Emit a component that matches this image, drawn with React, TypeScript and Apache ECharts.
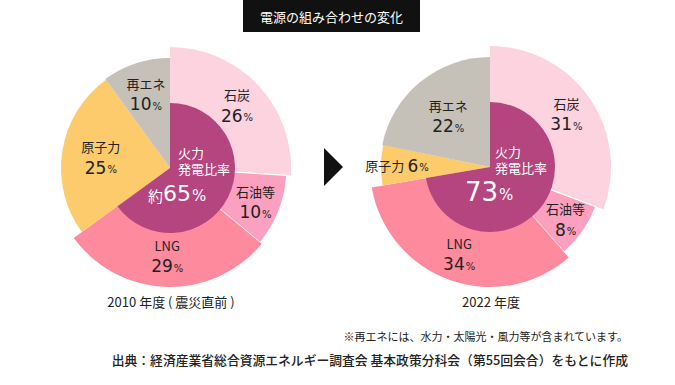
import React, { useEffect, useRef } from 'react';
import * as echarts from 'echarts';

// ---------- data ----------
const categories = ['石炭', '石油等', 'LNG', '原子力', '再エネ'];
const values2010 = [26, 10, 29, 25, 10];
const values2022 = [31, 8, 34, 6, 22];
const isThermal = [true, true, true, false, false];
const thermalPrefix = ['約', ''];
const thermalTitle = ['火力', '発電比率'];
const yearLabels = ['2010 年度 ( 震災直前 )', '2022 年度'];
const titleText = '電源の組み合わせの変化';
const footnote = '※再エネには、水力・太陽光・風力等が含まれています。';
const sourceText = '出典：経済産業省総合資源エネルギー調査会 基本政策分科会（第55回会合）をもとに作成';

// ---------- styles / layout ----------
const COLORS = ['#FDD3DF', '#FBA0BE', '#FE8A9E', '#FDCB6B', '#C5C0B8'];
const PURPLE = '#B5457E';
const INK = '#222222';
const CJK = '"Noto Sans CJK JP", "Noto Sans", sans-serif';
const NUM = '"DejaVu Sans", "Noto Sans", sans-serif';

const pies = [
  {
    values: values2010,
    center: [170, 168],
    outer: [121, 117, 119, 109, 110],
    inner: 65,
    labelR: [89, 89, 85, 67, 75],
    inline: [false, false, false, false, false],
    shareSize: 22,
    textLeft: 148,
    textTop: 144,
  },
  {
    values: values2022,
    center: [490, 167],
    outer: [121, 113, 120, 109, 110],
    inner: 65,
    labelR: [90, 89, 89, 90, 63],
    inline: [false, false, false, true, false],
    shareSize: 26,
    textLeft: 465,
    textTop: 143,
  },
];

const TRANSPARENT = 'rgba(0,0,0,0)';

function buildOption() {
  const series: any[] = [];
  const titles: any[] = [];

  titles.push({
    text: titleText,
    left: 243,
    top: 0,
    padding: [9, 17, 9, 17],
    backgroundColor: '#111111',
    textStyle: { color: '#ffffff', fontSize: 13, fontWeight: 'normal', fontFamily: CJK, lineHeight: 14 },
  });

  pies.forEach((p, pi) => {
    const total = p.values.reduce((a, b) => a + b, 0);
    const thermalSum = p.values.reduce((a, v, i) => (isThermal[i] ? a + v : a), 0);

    // slices
    p.values.forEach((_, i) => {
      series.push({
        type: 'pie',
        center: p.center,
        radius: [isThermal[i] ? p.inner - 1 : 0, p.outer[i]],
        startAngle: 90,
        clockwise: true,
        silent: true,
        z: 2,
        label: { show: false },
        labelLine: { show: false },
        emphasis: { disabled: true },
        data: p.values.map((v, j) => ({
          value: v,
          name: categories[j],
          itemStyle:
            j === i
              ? { color: COLORS[i], borderColor: '#ffffff', borderWidth: i === 1 ? 1.2 : 0 }
              : { color: TRANSPARENT, borderWidth: 0 },
        })),
      });
    });

    // thermal inner sector
    series.push({
      type: 'pie',
      center: p.center,
      radius: [0, p.inner],
      startAngle: 90,
      clockwise: true,
      silent: true,
      z: 3,
      label: { show: false },
      labelLine: { show: false },
      emphasis: { disabled: true },
      data: [
        { value: thermalSum, name: '火力', itemStyle: { color: PURPLE, borderWidth: 0 } },
        { value: total - thermalSum, name: 'other', itemStyle: { color: TRANSPARENT, borderWidth: 0 } },
      ],
    });

    // slice labels
    p.values.forEach((_, i) => {
      series.push({
        type: 'pie',
        center: p.center,
        radius: [0, p.labelR[i] * 2],
        startAngle: 90,
        clockwise: true,
        silent: true,
        z: 4,
        labelLine: { show: false },
        emphasis: { disabled: true },
        label: {
          show: true,
          position: 'inside',
          color: INK,
          textBorderWidth: 0,
          formatter: (params: any) => {
            const j = params.dataIndex;
            const sep = p.inline[j] ? ' ' : '\n';
            return `{name|${categories[j]}}${sep}{val|${p.values[j]}}{pct|%}`;
          },
          rich: {
            name: { fontFamily: CJK, fontSize: 13, color: INK, lineHeight: 21 },
            val: { fontFamily: NUM, fontSize: 17, color: INK, lineHeight: 21 },
            pct: { fontFamily: NUM, fontSize: 10, color: INK, lineHeight: 21, padding: [4, 0, 0, 1] },
          },
        },
        data: p.values.map((v, j) => ({
          value: v,
          name: categories[j],
          itemStyle: { color: TRANSPARENT, borderWidth: 0 },
          label: { show: j === i },
        })),
      });
    });

    // center text
    const shareTxt = `${thermalPrefix[pi] ? `{p|${thermalPrefix[pi]}}` : ''}{n|${thermalSum}}{q|%}`;
    titles.push({
      text: `{a|${thermalTitle[0]}}\n{a|${thermalTitle[1]}}\n${shareTxt}`,
      left: p.textLeft,
      top: p.textTop,
      padding: 0,
      textStyle: {
        fontWeight: 'normal',
        rich: {
          a: { color: '#ffffff', fontFamily: CJK, fontWeight: 'normal', fontSize: 13, lineHeight: 16, padding: [0, 0, 0, 30], align: 'left' },
          p: { color: '#ffffff', fontFamily: CJK, fontWeight: 'normal', fontSize: 15, lineHeight: 34, align: 'left', padding: [4, 0, 0, 0] },
          n: { color: '#ffffff', fontFamily: NUM, fontWeight: 'normal', fontSize: p.shareSize, lineHeight: 34, align: 'left' },
          q: { color: '#ffffff', fontFamily: NUM, fontWeight: 'normal', fontSize: 15, lineHeight: 34, align: 'left', padding: [5, 0, 0, 1] },
        },
      },
    });
  });

  const graphic: any[] = [
    {
      type: 'polygon',
      shape: { points: [[324, 148], [343, 167], [324, 186]] },
      style: { fill: '#111111' },
      silent: true,
    },
    ...pies.map((p, pi) => ({
      type: 'text',
      x: p.center[0] + 1,
      y: 301,
      style: { text: yearLabels[pi], fill: INK, font: `13px ${CJK}`, align: 'center', verticalAlign: 'middle' },
      silent: true,
    })),
    {
      type: 'text',
      x: 628,
      y: 336,
      style: { text: footnote, fill: INK, font: `11px ${CJK}`, align: 'right', verticalAlign: 'middle' },
      silent: true,
    },
    {
      type: 'text',
      x: 628,
      y: 359,
      style: { text: sourceText, fill: INK, font: `500 12.8px ${CJK}`, align: 'right', verticalAlign: 'middle' },
      silent: true,
    },
  ];

  return {
    animation: false,
    backgroundColor: '#ffffff',
    title: titles,
    series,
    graphic,
  };
}

export default function App() {
  const ref = useRef<HTMLDivElement>(null);
  useEffect(() => {
    if (!ref.current) return;
    const chart = echarts.init(ref.current, undefined, { renderer: 'svg' });
    chart.setOption(buildOption() as any);
    return () => chart.dispose();
  }, []);
  return (
    <div
      ref={ref}
      style={{ position: 'absolute', left: 0, top: 0, width: 675, height: 385 }}
    />
  );
}
